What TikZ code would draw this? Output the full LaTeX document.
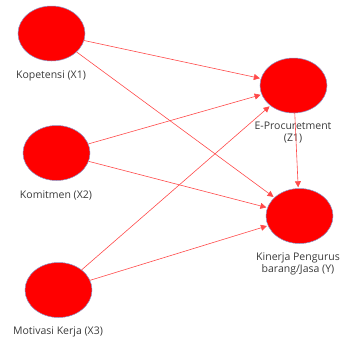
\documentclass[tikz,border=0pt]{standalone}
\usepackage{fontspec}
\setmainfont{Open Sans}
\usetikzlibrary{arrows.meta,shapes.geometric}
\definecolor{nodered}{HTML}{FF0000}
\definecolor{rim}{HTML}{8A96C8}
\definecolor{edgered}{HTML}{FF4A4A}
\definecolor{txt}{HTML}{3A3A3A}
\tikzset{
  latent/.style={ellipse, fill=nodered, draw=rim, line width=0.5pt, minimum width=67pt, minimum height=55pt, inner sep=0pt},
  lbl/.style={text=txt, font=\fontsize{10.5}{12}\selectfont, align=center, inner sep=0pt},
  path/.style={draw=edgered, line width=0.6pt, -{Triangle[length=6pt,width=6pt]}, shorten >=1pt}
}
\begin{document}
\begin{tikzpicture}[x=1pt,y=-1pt]
\useasboundingbox (0,0) rectangle (341,338);
\node[latent] (x1) at (51.5,33.5) {};
\node[latent] (x2) at (56.5,153) {};
\node[latent] (x3) at (58.5,290) {};
\node[latent] (z1) at (293.5,85.5) {};
\node[latent] (y) at (299.5,216) {};
\node[lbl] (lx1) at (51,76) {Kopetensi (X1)};
\node[lbl] (lx2) at (56,195) {Komitmen (X2)};
\node[lbl] (lx3) at (58,332) {Motivasi Kerja (X3)};
\node[lbl] (lz1) at (293,133) {E-Procuretment\\(Z1)};
\node[lbl] (ly) at (298,264) {Kinerja Pengurus\\barang/Jasa (Y)};
\draw[path] (x1) -- (z1);
\draw[path] (x1) -- (y);
\draw[path] (x2) -- (z1);
\draw[path] (x2) -- (y);
\draw[path] (x3) -- (z1);
\draw[path] (x3) -- (y);
\draw[path] (z1) -- (y);
\end{tikzpicture}
\end{document}
